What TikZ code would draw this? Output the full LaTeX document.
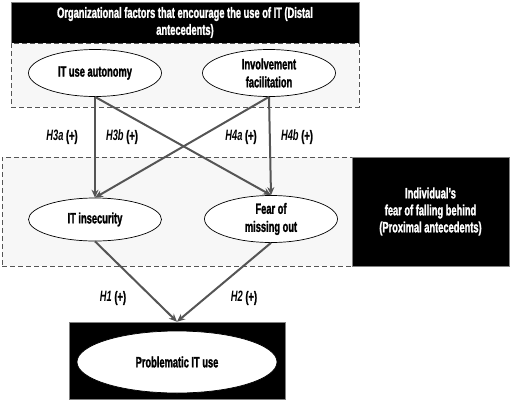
\documentclass[tikz,border=0pt]{standalone}
\usepackage{fontspec}
\setmainfont{Liberation Sans}[FakeStretch=0.62,BoldFeatures={FakeBold=1.5}]
\usetikzlibrary{shapes.geometric,arrows.meta}
\definecolor{linegray}{HTML}{555555}
\definecolor{boxgray}{HTML}{F7F7F7}
\tikzset{
  construct/.style={ellipse,draw=black,line width=0.7pt,fill=white,inner sep=0pt,align=center,
    font=\bfseries\fontsize{15}{18}\selectfont},
  darkbox/.style={rectangle,draw=gray,line width=0.6pt,fill=black,text=white,align=center,
    font=\bfseries\fontsize{15}{17}\selectfont},
  dashbox/.style={rectangle,draw=linegray,dash pattern=on 5pt off 3pt,line width=1pt,fill=boxgray},
  link/.style={draw=linegray,line width=2pt,-{Stealth[length=8pt,width=7pt]}},
  hyp/.style={font=\bfseries\fontsize{15}{16}\selectfont}
}
\begin{document}
\begin{tikzpicture}[x=1pt,y=-1pt]
            %modello: antecedenti distali, prossimali e uso problematico dell'IT
            \useasboundingbox (0,0) rectangle (520,402);
            \node[darkbox,minimum width=348pt,minimum height=41pt] (distal) at (185,22.5) {Organizational factors that encourage the use of IT (Distal\\antecedents)};
            \node[dashbox,minimum width=348pt,minimum height=64pt] (topbox) at (185,75) {};
            \node[dashbox,minimum width=350pt,minimum height=109pt] (midbox) at (177,211.5) {};
            \node[darkbox,minimum width=157pt,minimum height=109pt] (proximal) at (430.5,211.5) {Individual's\\fear of falling behind\\(Proximal antecedents)};
            \node[darkbox,minimum width=216pt,minimum height=77pt] (outbox) at (177,360.5) {};

            \node[construct,minimum width=133pt,minimum height=47pt] (autonomy) at (95,73) {IT use autonomy};
            \node[construct,minimum width=133pt,minimum height=47pt] (involvement) at (269,73) {Involvement\\facilitation};
            \node[construct,minimum width=133pt,minimum height=43pt] (insecurity) at (95,219.5) {IT insecurity};
            \node[construct,minimum width=133pt,minimum height=47pt] (fomo) at (271,219) {Fear of\\missing out};
            \node[construct,minimum width=200pt,minimum height=62pt] (problematic) at (177,362) {Problematic IT use};

            \draw[link] (autonomy.south) -- (insecurity.north);
            \draw[link] (autonomy.south) -- (fomo.north);
            \draw[link] (involvement.south) -- (insecurity.north);
            \draw[link] (involvement.south) -- (fomo.north);
            \draw[link] (insecurity.south) -- (outbox.north);
            \draw[link] (fomo.south) -- (outbox.north);

            \node[hyp] (h3a) at (62,137) {\textit{H3a} (+)};
            \node[hyp] (h3b) at (122,137) {\textit{H3b} (+)};
            \node[hyp] (h4a) at (241,137) {\textit{H4a} (+)};
            \node[hyp] (h4b) at (297,137) {\textit{H4b} (+)};
            \node[hyp] (h1) at (113,298) {\textit{H1} (+)};
            \node[hyp] (h2) at (244,298) {\textit{H2} (+)};

        \end{tikzpicture}
\end{document}
